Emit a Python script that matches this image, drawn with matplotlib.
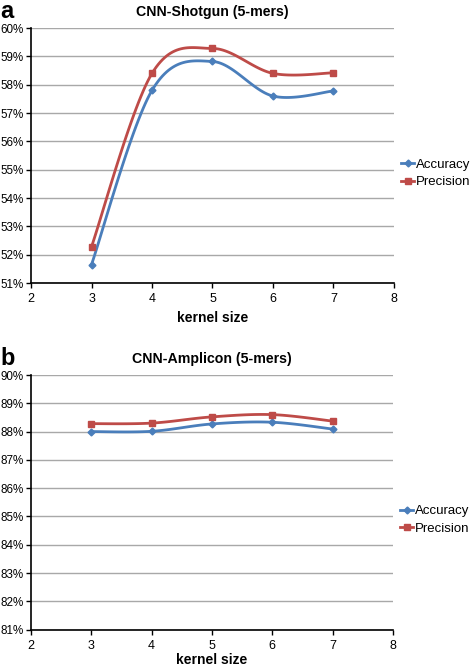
import numpy as np
import matplotlib.pyplot as plt
import matplotlib.ticker as mticker

plt.rcParams['font.family'] = ['Liberation Sans', 'DejaVu Sans']

kernel_size = [3, 4, 5, 6, 7]

shotgun_accuracy = [51.65, 57.80, 58.82, 57.60, 57.78]
shotgun_precision = [52.28, 58.40, 59.28, 58.40, 58.42]

amplicon_accuracy = [88.00, 88.01, 88.27, 88.33, 88.09]
amplicon_precision = [88.28, 88.30, 88.52, 88.60, 88.37]

BLUE = '#4a7ebb'
RED = '#be4b48'


def smooth(x, y, n=30):
    # excel style smoothed line (catmull-rom through the points)
    pts = np.column_stack([x, y]).astype(float)
    pts = np.vstack([pts[0], pts, pts[-1]])
    out = []
    t = np.linspace(0, 1, n)[:, None]
    for i in range(1, len(pts) - 2):
        p0, p1, p2, p3 = pts[i - 1], pts[i], pts[i + 1], pts[i + 2]
        c1 = p1 + (p2 - p0) / 6
        c2 = p2 - (p3 - p1) / 6
        seg = ((1 - t) ** 3) * p1 + 3 * ((1 - t) ** 2) * t * c1 \
            + 3 * (1 - t) * t ** 2 * c2 + t ** 3 * p2
        out.append(seg)
    out = np.vstack(out)
    return out[:, 0], out[:, 1]


def panel(ax, acc, prec, ylim, title, letter, xlabelpad=4):
    for vals, color, marker, ms, name in [(acc, BLUE, 'D', 3.5, 'Accuracy'),
                                          (prec, RED, 's', 5, 'Precision')]:
        sx, sy = smooth(kernel_size, vals)
        ax.plot(sx, sy, color=color, lw=2, zorder=3)
        ax.plot(kernel_size, vals, color=color, marker=marker,
                ms=ms, ls='none', zorder=4)
        ax.plot([], [], color=color, lw=2, marker=marker, ms=ms, label=name)
    ax.set_xlim(2, 8)
    ax.set_ylim(*ylim)
    ax.set_xticks(range(2, 9))
    ax.set_yticks(np.arange(ylim[0], ylim[1] + 1, 1))
    ax.yaxis.set_major_formatter(mticker.PercentFormatter(decimals=0))
    ax.grid(axis='y', color='#a8a8a8', lw=1)
    ax.set_axisbelow(True)
    for s in ['top', 'right']:
        ax.spines[s].set_visible(False)
    for s in ['left', 'bottom']:
        ax.spines[s].set_linewidth(1.2)
    ax.tick_params(length=3.5, width=1, colors='black')
    ax.tick_params(axis='y', labelsize=8.4, pad=1.5)
    ax.tick_params(axis='x', labelsize=9, pad=4)
    ax.set_xlabel('kernel size', fontsize=10, fontweight='bold',
                  labelpad=xlabelpad)
    ax.set_title(title, fontsize=10.2, fontweight='bold', pad=9)
    ax.legend(loc='center left', bbox_to_anchor=(1.02, 0.43), frameon=False,
              fontsize=9.5, handlelength=1.0, handletextpad=0.1,
              labelspacing=0.4, borderpad=0, borderaxespad=0)
    ax.text(-0.085, 1.11, letter, transform=ax.transAxes, fontsize=17,
            fontweight='bold', va='top', ha='left')


fig = plt.figure(figsize=(4.72, 6.68), dpi=100)
ax1 = fig.add_axes([0.0657, 0.5763, 0.769, 0.3817])
ax2 = fig.add_axes([0.0657, 0.0575, 0.767, 0.3811])

panel(ax1, shotgun_accuracy, shotgun_precision, (51, 60), 'CNN-Shotgun (5-mers)', 'a')
panel(ax2, amplicon_accuracy, amplicon_precision, (81, 90), 'CNN-Amplicon (5-mers)', 'b',
      xlabelpad=1)

fig.savefig('out.png', dpi=100)
